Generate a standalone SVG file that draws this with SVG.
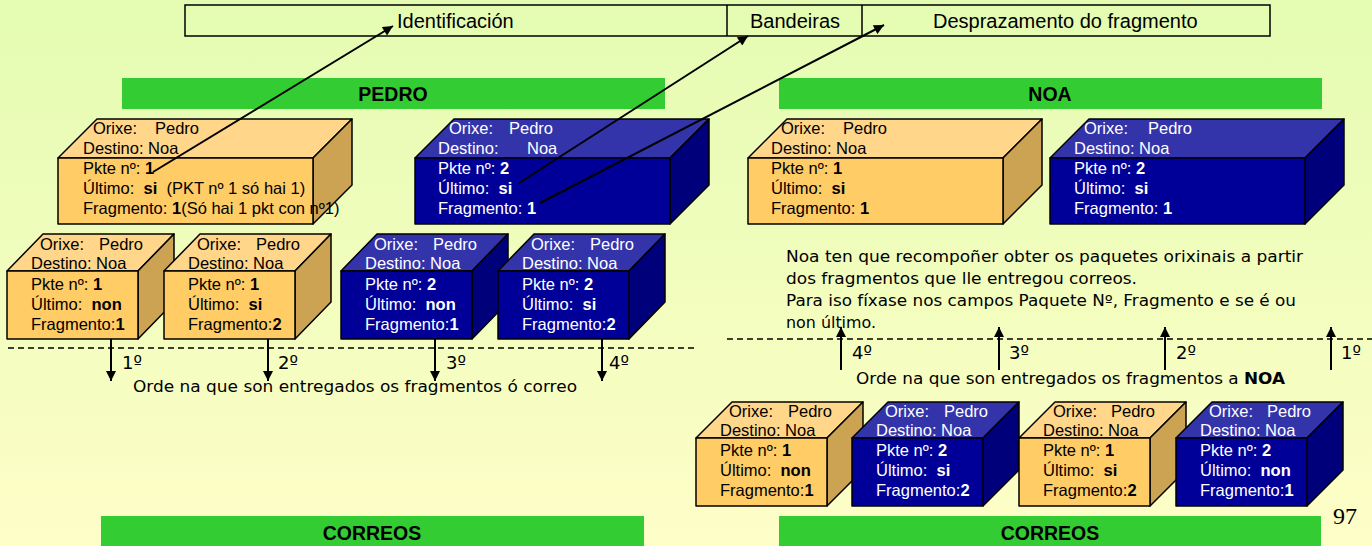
<svg xmlns="http://www.w3.org/2000/svg" width="1372" height="546" viewBox="0 0 1372 546" xml:space="preserve">
<defs>
<linearGradient id="bg" x1="0" y1="0" x2="0" y2="1">
<stop offset="0" stop-color="#E4FCB2"/>
<stop offset="1" stop-color="#FEFEC8"/>
</linearGradient>
<marker id="ah" viewBox="0 0 10 10" refX="10" refY="5" markerWidth="13" markerHeight="10" markerUnits="userSpaceOnUse" orient="auto">
<path d="M0,0 L10,5 L0,10 z" fill="#000"/>
</marker>
<style>
.of{fill:#FFCC66;stroke:#000;stroke-width:1.5;stroke-linejoin:round}
.ot{fill:#FFD68A;stroke:#000;stroke-width:1.5;stroke-linejoin:round}
.os{fill:#CCA352;stroke:#000;stroke-width:1.5;stroke-linejoin:round}
.bf{fill:#000099;stroke:#000;stroke-width:1.5;stroke-linejoin:round}
.bt{fill:#3333AA;stroke:#000;stroke-width:1.5;stroke-linejoin:round}
.bs{fill:#00007A;stroke:#000;stroke-width:1.5;stroke-linejoin:round}
.t{font-family:"Liberation Sans",Arial,sans-serif;font-size:16.5px;white-space:pre}
.tk{fill:#000}
.tw{fill:#fff}
.b{font-weight:bold}
.bar{fill:#33CC33}
.bt2{font-family:"Liberation Sans",Arial,sans-serif;font-size:19.5px;font-weight:bold;fill:#000;text-anchor:middle}
.hd{font-family:"Liberation Sans",Arial,sans-serif;font-size:20px;fill:#000}
.cm{font-family:"DejaVu Sans",sans-serif;font-size:16px;fill:#000}
.lb{font-family:"DejaVu Sans",sans-serif;font-size:18px;fill:#000}
.con{stroke:#000;stroke-width:2;fill:none;marker-end:url(#ah)}
.dash{stroke:#000;stroke-width:1.3;stroke-dasharray:6 4;fill:none}
</style>
</defs>
<rect x="0" y="0" width="1372" height="546" fill="url(#bg)"/>

<g id="header">
<rect x="185" y="5" width="1085" height="31" fill="none" stroke="#000" stroke-width="1.5"/>
<line x1="727" y1="5" x2="727" y2="36" stroke="#000" stroke-width="1.5"/>
<line x1="862" y1="5" x2="862" y2="36" stroke="#000" stroke-width="1.5"/>
<text class="hd" x="397" y="28">Identificación</text>
<text class="hd" x="750" y="28">Bandeiras</text>
<text class="hd" x="933" y="28">Desprazamento do fragmento</text>
</g>

<g id="bar-pedro"><rect class="bar" x="122" y="78" width="543" height="31"/><text class="bt2" x="393" y="101">PEDRO</text></g>
<g id="bar-noa"><rect class="bar" x="779" y="78" width="543" height="31"/><text class="bt2" x="1050" y="101">NOA</text></g>
<g id="bar-correos-left"><rect class="bar" x="101" y="516" width="543" height="30"/><text class="bt2" x="372" y="540">CORREOS</text></g>
<g id="bar-correos-right"><rect class="bar" x="779" y="516" width="542" height="30"/><text class="bt2" x="1050" y="540">CORREOS</text></g>

<!-- Large cubes -->
<g id="cube-pedro-1">
<polygon class="ot" points="58,158 97,119 352,119 313,158"/>
<polygon class="os" points="313,158 352,119 352,185 313,224"/>
<rect class="of" x="58" y="158" width="255" height="66"/>
<text class="t tk" x="93" y="134">Orixe:</text><text class="t tk" x="155" y="134">Pedro</text>
<text class="t tk" x="83" y="154">Destino: Noa</text>
<text class="t tk" x="83" y="174">Pkte nº: <tspan class="b">1</tspan></text>
<text class="t tk" x="83" y="194">Último:  <tspan class="b">si</tspan>  (PKT nº 1 só hai 1)</text>
<text class="t tk" x="83" y="214">Fragmento: <tspan class="b">1</tspan>(Só hai 1 pkt con nº1)</text>
</g>
<g id="cube-pedro-2">
<polygon class="bt" points="415,158 454,119 709,119 670,158"/>
<polygon class="bs" points="670,158 709,119 709,185 670,224"/>
<rect class="bf" x="415" y="158" width="255" height="66"/>
<text class="t tw" x="449" y="134">Orixe:</text><text class="t tw" x="509" y="134">Pedro</text>
<text class="t tw" x="438" y="154">Destino:</text><text class="t tw" x="527" y="154">Noa</text>
<text class="t tw" x="438" y="174">Pkte nº: <tspan class="b">2</tspan></text>
<text class="t tw" x="438" y="194">Último:  <tspan class="b">si</tspan></text>
<text class="t tw" x="438" y="214">Fragmento: <tspan class="b">1</tspan></text>
</g>
<g id="cube-noa-1">
<polygon class="ot" points="748,158 787,119 1042,119 1003,158"/>
<polygon class="os" points="1003,158 1042,119 1042,185 1003,224"/>
<rect class="of" x="748" y="158" width="255" height="66"/>
<text class="t tk" x="781" y="134">Orixe:</text><text class="t tk" x="843" y="134">Pedro</text>
<text class="t tk" x="771" y="154">Destino: Noa</text>
<text class="t tk" x="771" y="174">Pkte nº: <tspan class="b">1</tspan></text>
<text class="t tk" x="771" y="194">Último:  <tspan class="b">si</tspan></text>
<text class="t tk" x="771" y="214">Fragmento: <tspan class="b">1</tspan></text>
</g>
<g id="cube-noa-2">
<polygon class="bt" points="1050,158 1089,119 1344,119 1305,158"/>
<polygon class="bs" points="1305,158 1344,119 1344,185 1305,224"/>
<rect class="bf" x="1050" y="158" width="255" height="66"/>
<text class="t tw" x="1084" y="134">Orixe:</text><text class="t tw" x="1148" y="134">Pedro</text>
<text class="t tw" x="1074" y="154">Destino: Noa</text>
<text class="t tw" x="1074" y="174">Pkte nº: <tspan class="b">2</tspan></text>
<text class="t tw" x="1074" y="194">Último:  <tspan class="b">si</tspan></text>
<text class="t tw" x="1074" y="214">Fragmento: <tspan class="b">1</tspan></text>
</g>

<!-- Small cubes, Pedro side -->
<g id="frag-a">
<polygon class="ot" points="7,271 43,234 174,234 138,271"/>
<polygon class="os" points="138,271 174,234 174,302 138,339"/>
<rect class="of" x="7" y="271" width="131" height="68"/>
<text class="t tk" x="40" y="250">Orixe:</text><text class="t tk" x="99" y="250">Pedro</text>
<text class="t tk" x="31" y="269">Destino: Noa</text>
<text class="t tk" x="31" y="290">Pkte nº: <tspan class="b">1</tspan></text>
<text class="t tk" x="31" y="310">Último:  <tspan class="b">non</tspan></text>
<text class="t tk" x="31" y="330">Fragmento:<tspan class="b">1</tspan></text>
</g>
<g id="frag-b">
<polygon class="ot" points="164,271 200,234 331,234 295,271"/>
<polygon class="os" points="295,271 331,234 331,302 295,339"/>
<rect class="of" x="164" y="271" width="131" height="68"/>
<text class="t tk" x="197" y="250">Orixe:</text><text class="t tk" x="256" y="250">Pedro</text>
<text class="t tk" x="188" y="269">Destino: Noa</text>
<text class="t tk" x="188" y="290">Pkte nº: <tspan class="b">1</tspan></text>
<text class="t tk" x="188" y="310">Último:  <tspan class="b">si</tspan></text>
<text class="t tk" x="188" y="330">Fragmento:<tspan class="b">2</tspan></text>
</g>
<g id="frag-c">
<polygon class="bt" points="341,271 377,234 508,234 472,271"/>
<polygon class="bs" points="472,271 508,234 508,302 472,339"/>
<rect class="bf" x="341" y="271" width="131" height="68"/>
<text class="t tw" x="374" y="250">Orixe:</text><text class="t tw" x="433" y="250">Pedro</text>
<text class="t tw" x="365" y="269">Destino: Noa</text>
<text class="t tw" x="365" y="290">Pkte nº: <tspan class="b">2</tspan></text>
<text class="t tw" x="365" y="310">Último:  <tspan class="b">non</tspan></text>
<text class="t tw" x="365" y="330">Fragmento:<tspan class="b">1</tspan></text>
</g>
<g id="frag-d">
<polygon class="bt" points="498,271 534,234 665,234 629,271"/>
<polygon class="bs" points="629,271 665,234 665,302 629,339"/>
<rect class="bf" x="498" y="271" width="131" height="68"/>
<text class="t tw" x="531" y="250">Orixe:</text><text class="t tw" x="590" y="250">Pedro</text>
<text class="t tw" x="522" y="269">Destino: Noa</text>
<text class="t tw" x="522" y="290">Pkte nº: <tspan class="b">2</tspan></text>
<text class="t tw" x="522" y="310">Último:  <tspan class="b">si</tspan></text>
<text class="t tw" x="522" y="330">Fragmento:<tspan class="b">2</tspan></text>
</g>

<!-- Small cubes, Noa side -->
<g id="frag-e">
<polygon class="ot" points="696,438 732,402 863,402 827,438"/>
<polygon class="os" points="827,438 863,402 863,470 827,506"/>
<rect class="of" x="696" y="438" width="131" height="68"/>
<text class="t tk" x="729" y="417">Orixe:</text><text class="t tk" x="788" y="417">Pedro</text>
<text class="t tk" x="720" y="436">Destino: Noa</text>
<text class="t tk" x="720" y="456">Pkte nº: <tspan class="b">1</tspan></text>
<text class="t tk" x="720" y="476">Último:  <tspan class="b">non</tspan></text>
<text class="t tk" x="720" y="496">Fragmento:<tspan class="b">1</tspan></text>
</g>
<g id="frag-f">
<polygon class="bt" points="852,438 888,402 1019,402 983,438"/>
<polygon class="bs" points="983,438 1019,402 1019,470 983,506"/>
<rect class="bf" x="852" y="438" width="131" height="68"/>
<text class="t tw" x="885" y="417">Orixe:</text><text class="t tw" x="944" y="417">Pedro</text>
<text class="t tw" x="876" y="436">Destino: Noa</text>
<text class="t tw" x="876" y="456">Pkte nº: <tspan class="b">2</tspan></text>
<text class="t tw" x="876" y="476">Último:  <tspan class="b">si</tspan></text>
<text class="t tw" x="876" y="496">Fragmento:<tspan class="b">2</tspan></text>
</g>
<g id="frag-g">
<polygon class="ot" points="1019,438 1055,402 1186,402 1150,438"/>
<polygon class="os" points="1150,438 1186,402 1186,470 1150,506"/>
<rect class="of" x="1019" y="438" width="131" height="68"/>
<text class="t tk" x="1053" y="417">Orixe:</text><text class="t tk" x="1111" y="417">Pedro</text>
<text class="t tk" x="1043" y="436">Destino: Noa</text>
<text class="t tk" x="1043" y="456">Pkte nº: <tspan class="b">1</tspan></text>
<text class="t tk" x="1043" y="476">Último:  <tspan class="b">si</tspan></text>
<text class="t tk" x="1043" y="496">Fragmento:<tspan class="b">2</tspan></text>
</g>
<g id="frag-h">
<polygon class="bt" points="1176,438 1212,402 1343,402 1307,438"/>
<polygon class="bs" points="1307,438 1343,402 1343,470 1307,506"/>
<rect class="bf" x="1176" y="438" width="131" height="68"/>
<text class="t tw" x="1209" y="417">Orixe:</text><text class="t tw" x="1267" y="417">Pedro</text>
<text class="t tw" x="1200" y="436">Destino: Noa</text>
<text class="t tw" x="1200" y="456">Pkte nº: <tspan class="b">2</tspan></text>
<text class="t tw" x="1200" y="476">Último:  <tspan class="b">non</tspan></text>
<text class="t tw" x="1200" y="496">Fragmento:<tspan class="b">1</tspan></text>
</g>

<g id="connectors">
<line class="con" x1="153" y1="172" x2="393" y2="26"/>
<line class="con" x1="519" y1="183" x2="748" y2="36"/>
<line class="con" x1="540" y1="203" x2="884" y2="25"/>
<line class="dash" x1="8" y1="348" x2="695" y2="348"/>
<line class="dash" x1="727" y1="339" x2="1372" y2="339"/>
<line class="con" x1="111" y1="339" x2="111" y2="381"/>
<line class="con" x1="268" y1="339" x2="268" y2="381"/>
<line class="con" x1="435" y1="339" x2="435" y2="381"/>
<line class="con" x1="602" y1="339" x2="602" y2="381"/>
<line class="con" x1="841" y1="370" x2="841" y2="327"/>
<line class="con" x1="999" y1="370" x2="999" y2="327"/>
<line class="con" x1="1165" y1="370" x2="1165" y2="327"/>
<line class="con" x1="1331" y1="370" x2="1331" y2="327"/>
</g>

<g id="labels">
<text class="lb" x="122" y="369">1º</text>
<text class="lb" x="278" y="369">2º</text>
<text class="lb" x="446" y="369">3º</text>
<text class="lb" x="609" y="369">4º</text>
<text class="cm" x="133" y="392" textLength="444" lengthAdjust="spacingAndGlyphs">Orde na que son entregados os fragmentos ó correo</text>
<text class="lb" x="852" y="359">4º</text>
<text class="lb" x="1009" y="359">3º</text>
<text class="lb" x="1176" y="359">2º</text>
<text class="lb" x="1341" y="359">1º</text>
<text class="cm" x="856" y="384" textLength="429" lengthAdjust="spacingAndGlyphs">Orde na que son entregados os fragmentos a <tspan font-weight="bold">NOA</tspan></text>
<text class="cm" x="786" y="262" textLength="517" lengthAdjust="spacingAndGlyphs">Noa ten que recompoñer obter os paquetes orixinais a partir</text>
<text class="cm" x="786" y="284" textLength="351" lengthAdjust="spacingAndGlyphs">dos fragmentos que lle entregou correos.</text>
<text class="cm" x="786" y="306" textLength="510" lengthAdjust="spacingAndGlyphs">Para iso fíxase nos campos Paquete Nº, Fragmento e se é ou</text>
<text class="cm" x="786" y="328" textLength="90" lengthAdjust="spacingAndGlyphs">non último.</text>
<text x="1333" y="524" font-family="'Liberation Serif',serif" font-size="24" fill="#000">97</text>
</g>
</svg>
